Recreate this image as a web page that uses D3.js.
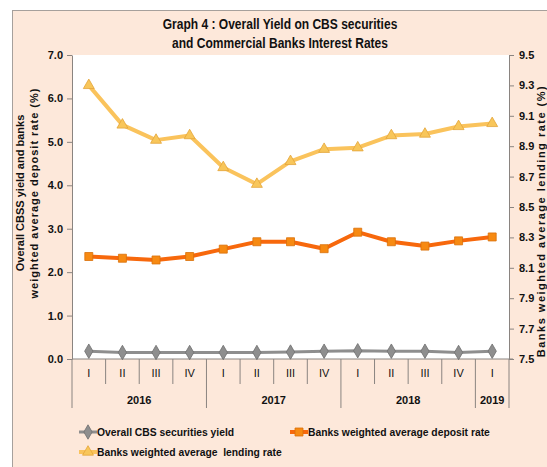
<!DOCTYPE html>
<html>
<head>
<meta charset="utf-8">
<script src="https://cdn.jsdelivr.net/npm/d3@7"></script>
<style>
    body { margin: 0; background: #ffffff; }
    svg { display: block; }
    .narrow { font-family: 'Liberation Sans Narrow', 'Arial Narrow', 'Liberation Sans', Arial, sans-serif; font-weight: bold; }
    .wide { font-family: 'Liberation Sans', Arial, sans-serif; font-weight: bold; }
</style>
</head>
<body>
<div id="chart"></div>
<script>
(function () {
    'use strict';

    // quarters along the x axis, grouped by year
    var quarters = ['I', 'II', 'III', 'IV', 'I', 'II', 'III', 'IV', 'I', 'II', 'III', 'IV', 'I'];
    var years = ['2016', '2017', '2018', '2019'];
    var yearSpans = [4, 4, 4, 1];

    // series values (%)
    var cbsYield = [0.18, 0.15, 0.15, 0.15, 0.15, 0.15, 0.16, 0.18, 0.19, 0.18, 0.18, 0.15, 0.18];
    var depositRate = [2.36, 2.32, 2.28, 2.36, 2.53, 2.70, 2.70, 2.54, 2.92, 2.70, 2.60, 2.72, 2.81];
    var lendingRate = [9.30, 9.04, 8.94, 8.97, 8.76, 8.65, 8.80, 8.88, 8.89, 8.97, 8.98, 9.03, 9.05];

    var leftTicks = [0, 1, 2, 3, 4, 5, 6, 7];
    var rightTicks = [7.5, 7.7, 7.9, 8.1, 8.3, 8.5, 8.7, 8.9, 9.1, 9.3, 9.5];

    var width = 547;
    var height = 467;
    var plot = { left: 72, right: 509, top: 55, bottom: 359 };
    var squeeze = 0.94; // no narrow font installed, so squeeze the bold sans a bit
    var titleSqueeze = 0.86;

    var grey = '#8e8e8e';
    var orange = '#f7680c';
    var yellow = '#fac35c';

    var svg = d3.select('#chart').append('svg')
        .attr('width', width)
        .attr('height', height);

    // chart background with border
    svg.append('rect')
        .attr('x', 12.5)
        .attr('y', 10.5)
        .attr('width', width)
        .attr('height', height)
        .style('fill', '#fde8da')
        .style('stroke', '#a6a09c');

    svg.append('rect')
        .attr('x', plot.left)
        .attr('y', plot.top)
        .attr('width', plot.right - plot.left)
        .attr('height', plot.bottom - plot.top)
        .style('fill', '#ffffff');

    var x = d3.scaleBand()
        .domain(d3.range(quarters.length))
        .range([plot.left, plot.right]);

    var yLeft = d3.scaleLinear().domain([0, 7]).range([plot.bottom, plot.top]);
    var yRight = d3.scaleLinear().domain([7.5, 9.5]).range([plot.bottom, plot.top]);

    // title
    var title = svg.append('text')
        .attr('class', 'narrow')
        .attr('text-anchor', 'middle')
        .attr('transform', 'translate(280,0) scale(' + titleSqueeze + ',1)')
        .style('font-size', '14px')
        .style('fill', '#111');
    title.append('tspan').attr('x', 0).attr('y', 29).text('Graph 4 : Overall Yield on CBS securities');
    title.append('tspan').attr('x', 0).attr('y', 48).text('and Commercial Banks Interest Rates');

    // axes
    var leftAxis = svg.append('g')
        .attr('transform', 'translate(' + plot.left + ',0)')
        .call(d3.axisLeft(yLeft).tickValues(leftTicks).tickFormat(d3.format('.1f'))
            .tickSize(5).tickSizeOuter(0).tickPadding(4));

    var rightAxis = svg.append('g')
        .attr('transform', 'translate(' + plot.right + ',0)')
        .call(d3.axisRight(yRight).tickValues(rightTicks).tickFormat(d3.format('.1f'))
            .tickSize(5).tickSizeOuter(0).tickPadding(5));

    [leftAxis, rightAxis].forEach(function (g) {
        g.selectAll('path, line').style('stroke', '#8a8480');
        g.selectAll('text')
            .attr('class', 'narrow')
            .style('font-size', '11px')
            .style('fill', '#111');
    });

    // bottom axis line
    svg.append('line')
        .attr('x1', plot.left).attr('x2', plot.right + 4)
        .attr('y1', plot.bottom).attr('y2', plot.bottom)
        .style('stroke', '#8a8480');

    // quarter separators and labels
    var yearStarts = [0];
    yearSpans.forEach(function (s, i) { yearStarts.push(yearStarts[i] + s); });

    d3.range(quarters.length + 1).forEach(function (i) {
        var isYear = yearStarts.indexOf(i) >= 0;
        var xPos = i < quarters.length ? x(i) : plot.right;
        svg.append('line')
            .attr('x1', xPos).attr('x2', xPos)
            .attr('y1', plot.bottom).attr('y2', isYear ? 408 : 384)
            .style('stroke', '#8a8480');
    });

    svg.append('g').selectAll('text')
        .data(quarters)
        .enter().append('text')
        .attr('class', 'narrow')
        .attr('x', function (d, i) { return x(i) + x.bandwidth() / 2; })
        .attr('y', 377)
        .attr('text-anchor', 'middle')
        .style('font-size', '11px')
        .style('font-weight', 'normal')
        .style('fill', '#111')
        .text(function (d) { return d; });

    svg.append('g').selectAll('text')
        .data(years)
        .enter().append('text')
        .attr('class', 'narrow')
        .attr('x', function (d, i) {
            var a = x(yearStarts[i]);
            var b = yearStarts[i + 1] < quarters.length ? x(yearStarts[i + 1]) : plot.right;
            return (a + b) / 2;
        })
        .attr('y', 404)
        .attr('text-anchor', 'middle')
        .style('font-size', '11px')
        .style('fill', '#111')
        .text(function (d) { return d; });

    // axis titles
    var leftTitle = svg.append('text')
        .attr('class', 'wide')
        .attr('text-anchor', 'middle')
        .attr('transform', 'translate(0,193) rotate(-90)')
        .style('font-size', '11px')
        .style('fill', '#111');
    leftTitle.append('tspan').attr('x', 0).attr('y', 24).text('Overall CBSS yield and banks');
    leftTitle.append('tspan').attr('x', 0).attr('y', 38)
        .style('letter-spacing', '1px')
        .text('weighted average deposit rate (%)');

    svg.append('text')
        .attr('class', 'wide')
        .attr('text-anchor', 'middle')
        .attr('transform', 'translate(545,221) rotate(-90)')
        .style('font-size', '11px')
        .style('letter-spacing', '1.5px')
        .style('fill', '#111')
        .text('Banks weighted average lending rate (%)');

    // series
    var series = [
        { values: cbsYield, scale: yLeft, color: grey, stroke: '#6f6f6f', lineWidth: 3, marker: d3.symbolDiamond, size: 60 },
        { values: depositRate, scale: yLeft, color: orange, stroke: '#d9700a', lineWidth: 4, marker: d3.symbolSquare, size: 64, markerFill: '#f78a12' },
        { values: lendingRate, scale: yRight, color: yellow, stroke: '#e3a53a', lineWidth: 4, marker: d3.symbolTriangle, size: 52, markerFill: '#f8c65a' }
    ];

    series.forEach(function (s) {
        var line = d3.line()
            .x(function (d, i) { return x(i) + x.bandwidth() / 2; })
            .y(function (d) { return s.scale(d); });

        svg.append('path')
            .datum(s.values)
            .attr('d', line)
            .style('fill', 'none')
            .style('stroke', s.color)
            .style('stroke-width', s.lineWidth)
            .style('stroke-linejoin', 'round');

        svg.append('g').selectAll('path')
            .data(s.values)
            .enter().append('path')
            .attr('d', d3.symbol().type(s.marker).size(s.size))
            .attr('transform', function (d, i) {
                return 'translate(' + (x(i) + x.bandwidth() / 2) + ',' + s.scale(d) + ')';
            })
            .style('fill', s.markerFill || s.color)
            .style('stroke', s.stroke)
            .style('stroke-width', 0.8);
    });

    // legend
    var legendItems = [
        { label: 'Overall CBS securities yield', s: series[0], x: 79, y: 432 },
        { label: 'Banks weighted average deposit rate', s: series[1], x: 290, y: 432 },
        { label: 'Banks weighted average  lending rate', s: series[2], x: 79, y: 452 }
    ];

    legendItems.forEach(function (item) {
        var g = svg.append('g').attr('transform', 'translate(' + item.x + ',' + item.y + ')');
        g.append('line')
            .attr('x1', 0).attr('x2', 18)
            .attr('y1', 0).attr('y2', 0)
            .style('stroke', item.s.color)
            .style('stroke-width', item.s.lineWidth);
        g.append('path')
            .attr('d', d3.symbol().type(item.s.marker).size(item.s.size))
            .attr('transform', 'translate(9,0)')
            .style('fill', item.s.markerFill || item.s.color)
            .style('stroke', item.s.stroke)
            .style('stroke-width', 0.8);
        g.append('text')
            .attr('class', 'narrow')
            .attr('transform', 'translate(18,4) scale(' + squeeze + ',1)')
            .style('font-size', '11px')
            .style('white-space', 'pre')
            .style('fill', '#111')
            .text(item.label);
    });
})();
</script>
</body>
</html>
